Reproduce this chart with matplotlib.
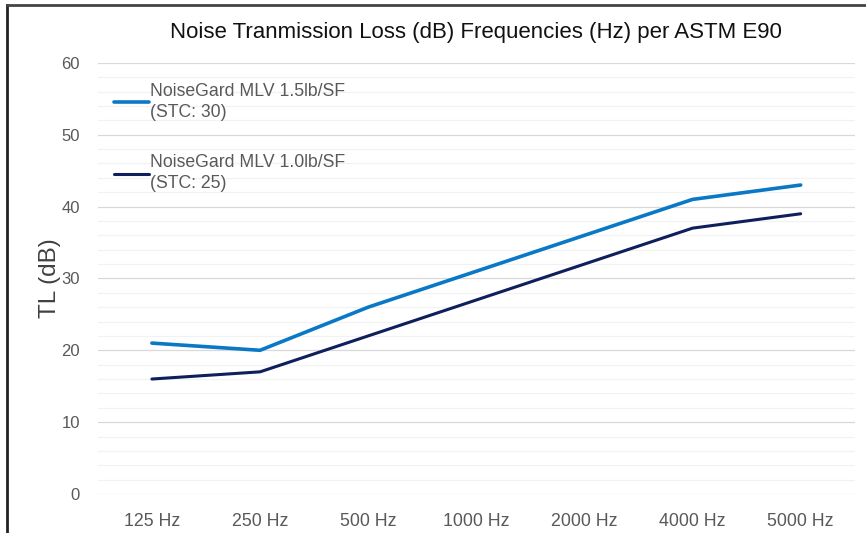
import numpy as np
import matplotlib.pyplot as plt
from matplotlib.lines import Line2D

plt.rcParams['font.family'] = ['Liberation Sans', 'DejaVu Sans']

freqs = ['125 Hz', '250 Hz', '500 Hz', '1000 Hz', '2000 Hz', '4000 Hz', '5000 Hz']
tl_15 = [21, 20, 26, 31, 36, 41, 43]
tl_10 = [16, 17, 22, 27, 32, 37, 39]
label_15 = 'NoiseGard MLV 1.5lb/SF\n(STC: 30)'
label_10 = 'NoiseGard MLV 1.0lb/SF\n(STC: 25)'

fig = plt.figure(figsize=(8.66, 5.33), dpi=100)
ax = fig.add_axes([0.113, 0.0732, 0.874, 0.8088])

x = np.arange(len(freqs))
ax.plot(x, tl_15, color='#0B78C5', lw=2.6, label=label_15, solid_capstyle='round')
ax.plot(x, tl_10, color='#0E1F5B', lw=2.2, label=label_10, solid_capstyle='round')

ax.set_xlim(-0.5, len(freqs) - 0.5)
ax.set_ylim(0, 60)
ax.set_xticks(x)
ax.set_xticklabels(freqs)
ax.set_yticks(range(0, 61, 10))
ax.set_yticks(range(0, 61, 2), minor=True)
ax.grid(which='minor', axis='y', color='#F2F2F2', lw=0.9)
ax.grid(which='major', axis='y', color='#D9D9D9', lw=0.9)
ax.set_axisbelow(True)
ax.tick_params(axis='both', which='both', length=0, colors='#595959')
ax.tick_params(axis='y', labelsize=12, pad=13)
ax.tick_params(axis='x', labelsize=12.8, pad=14)
for s in ax.spines.values():
    s.set_visible(False)

ax.set_ylabel('TL (dB)', fontsize=17.5, color='#404040', labelpad=0)
ax.set_title('Noise Tranmission Loss (dB) Frequencies (Hz) per ASTM E90',
             fontsize=16, color='#111111', pad=18)

leg = ax.legend(loc='upper left', bbox_to_anchor=(0.0, 0.99), frameon=False,
                fontsize=12.7, labelspacing=1.9, handlelength=2.0, handletextpad=0.05,
                borderaxespad=0.5)
for t in leg.get_texts():
    t.set_color('#595959')
    t.set_linespacing(1.3)

# frame around the chart (left and top edges)
fig.add_artist(Line2D([7.5 / 866, 7.5 / 866], [0, 1 - 4.5 / 533], transform=fig.transFigure,
                      color='#222222', lw=2.0))
fig.add_artist(Line2D([6.5 / 866, 1], [1 - 4.5 / 533, 1 - 4.5 / 533], transform=fig.transFigure,
                      color='#444444', lw=2.0))

fig.savefig('out.png', dpi=100)
